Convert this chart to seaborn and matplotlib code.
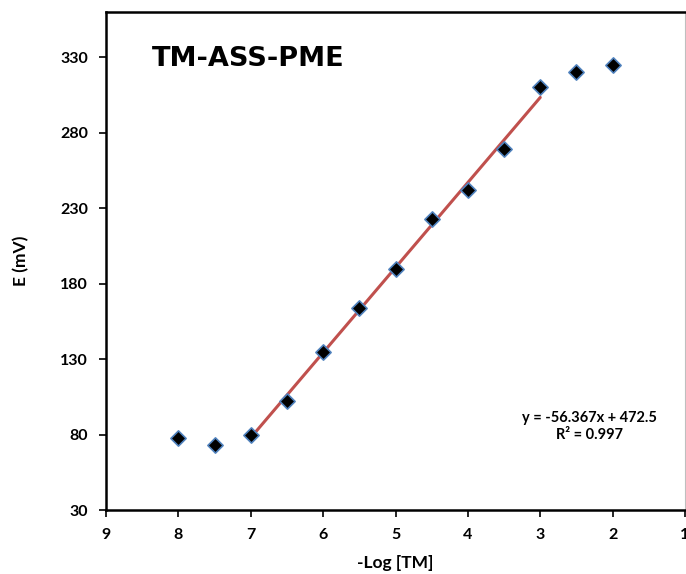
import numpy as np
import pandas as pd
import matplotlib
matplotlib.use("Agg")
import matplotlib.pyplot as plt
import seaborn as sns

# data
neg_log_tm = [8, 7.5, 7, 6.5, 6, 5.5, 5, 4.5, 4, 3.5, 3, 2.5, 2]
potential_mv = [78, 73, 80, 102, 135, 164, 190, 223, 242, 269, 310, 320, 325]

# linear range and the fitted trend line shown on the chart
fit_range = [7, 3]
slope = -56.367
intercept = 472.5
r_squared = 0.997

x_ticks = [9, 8, 7, 6, 5, 4, 3, 2, 1]
y_ticks = [30, 80, 130, 180, 230, 280, 330]

sns.set_theme(style="white")
plt.rcParams['font.family'] = ['Lato', 'DejaVu Sans']
plt.rcParams['text.color'] = 'black'
plt.rcParams['axes.labelcolor'] = 'black'
plt.rcParams['xtick.color'] = 'black'
plt.rcParams['ytick.color'] = 'black'

df = pd.DataFrame({'x': neg_log_tm, 'E': potential_mv})
fit_x = np.array(fit_range, dtype=float)
fit_df = pd.DataFrame({'x': fit_x, 'E': slope * fit_x + intercept})

fig = plt.figure(figsize=(6.86, 5.74), dpi=100)
ax = fig.add_axes([106 / 686, 64 / 574, 579 / 686, 498 / 574])

sns.lineplot(data=fit_df, x='x', y='E', ax=ax, color='#C0504D', linewidth=2.2, zorder=2)
sns.scatterplot(data=df, x='x', y='E', ax=ax, marker='D', s=60, color='black',
                edgecolor='#4F81BD', linewidth=1.2, zorder=3)

ax.set_xlim(9, 1)
ax.set_ylim(30, 360)
ax.set_xticks(x_ticks)
ax.set_yticks(y_ticks)
ax.set_xticklabels([str(t) for t in x_ticks], fontsize=11.5, fontweight='bold')
ax.set_yticklabels([str(t) for t in y_ticks], fontsize=11.5, fontweight='bold')
ax.tick_params(axis='both', direction='out', length=5, width=1.2, color='black',
               labelcolor='black', bottom=True, left=True, pad=8)

for side in ['left', 'bottom', 'top']:
    ax.spines[side].set_color('black')
    ax.spines[side].set_linewidth(1.8)
ax.spines['right'].set_color('#BFBFBF')
ax.spines['right'].set_linewidth(0.8)

ax.set_xlabel('-Log [TM]', fontsize=12.5, fontweight='bold', labelpad=9, color='black')
ax.set_ylabel('E (mV)', fontsize=12.5, fontweight='bold', labelpad=22, color='black')

ax.text(0.08, 0.905, 'TM-ASS-PME', transform=ax.transAxes, fontsize=19.5,
        fontweight='bold', ha='left', va='center', color='black',
        family=['DejaVu Sans'])
ax.text(0.835, 0.167, f'y = {slope}x + {intercept}\nR² = {r_squared}',
        transform=ax.transAxes, fontsize=10.5, fontweight='bold', color='black',
        ha='center', va='center', linespacing=1.3)

fig.savefig('out.png', dpi=100)
